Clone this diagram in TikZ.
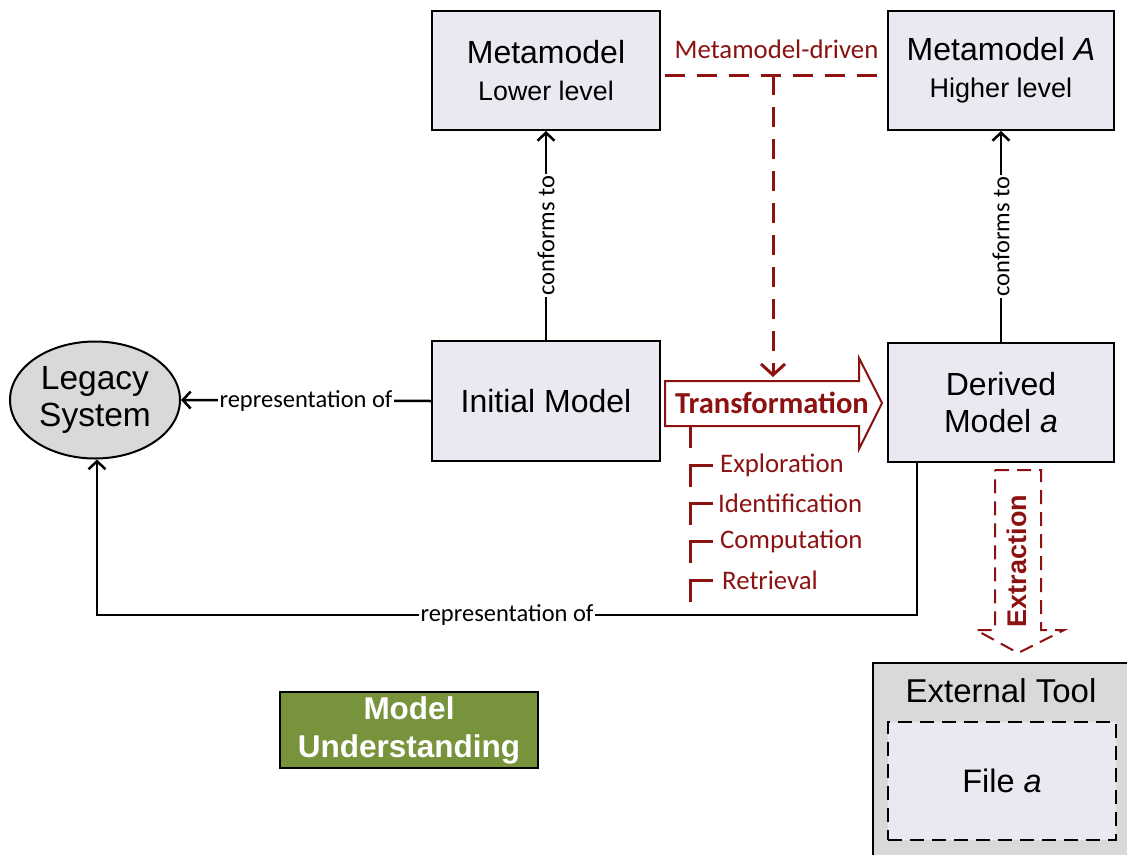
\documentclass[tikz,border=0pt]{standalone}
\usepackage{fontspec}
\setmainfont{Liberation Sans}
\newfontfamily\calib{Carlito}
\usetikzlibrary{arrows.meta,shapes.geometric}
\definecolor{dred}{RGB}{140,18,18}
\definecolor{lav}{RGB}{235,232,241}
\definecolor{lgray}{RGB}{217,217,217}
\definecolor{mugreen}{RGB}{119,147,60}
\begin{document}
\begin{tikzpicture}[x=1pt,y=-1pt,
  box/.style={draw=black, line width=2pt, fill=lav, minimum width=228pt, minimum height=119pt, inner sep=0pt, align=center, font=\fontsize{32}{37}\selectfont},
  conn/.style={line width=2.5pt, -{Straight Barb[length=8pt,width=17pt]}},
  lbl/.style={fill=white, inner sep=1.5pt, font=\calib\fontsize{24.5}{28}\selectfont},
  redtxt/.style={text=dred, inner sep=0pt, font=\calib\fontsize{26.8}{30}\selectfont},
  reddash/.style={draw=dred, line width=3pt, dash pattern=on 20pt off 12pt},
  tick/.style={draw=dred, line width=3pt}
]
\useasboundingbox (0,0) rectangle (1127,854);

% boxes
\node[box] (meta) at (546,70.5) {Metamodel\\{\fontsize{26.8}{36}\selectfont Lower level}};
\node[box, minimum width=226pt] (metaA) at (1001,70.5) {Metamodel \textit{A}\\{\fontsize{27}{36}\selectfont Higher level}};
\node[box, minimum height=120pt] (init) at (546,401) {Initial Model};
\node[box, minimum width=226pt] (derived) at (1001,402.5) {Derived\\Model \textit{a}};
\node[ellipse, draw=black, line width=2pt, fill=lgray, minimum width=170pt, minimum height=117pt, inner sep=0pt, align=center, font=\fontsize{33.5}{37}\selectfont] (legacy) at (95,400) {Legacy\\System};

% model understanding
\node[draw=black, line width=1.5pt, fill=mugreen, text=white, minimum width=258pt, minimum height=76pt, inner sep=0pt, align=center, font=\bfseries\fontsize{31.5}{38}\selectfont] (mu) at (409,730) {Model\\Understanding};

% external tool
\begin{scope}
\clip (0,0) rectangle (1127,854);
\node[draw=black, line width=2pt, fill=lgray, anchor=north west, minimum width=280pt, minimum height=220pt] (ext) at (872,662) {};
\end{scope}
\node[inner sep=0pt, font=\fontsize{33}{36}\selectfont] (extlbl) at (1001,691) {External Tool};
\node[draw=black, line width=2pt, dash pattern=on 14pt off 8pt, fill=lav, minimum width=228pt, minimum height=118pt, font=\fontsize{32.5}{36}\selectfont] (file) at (1002,781) {File \textit{a}};

% connectors
\draw[conn] (init.west) -- (legacy.east) node[midway, lbl] {representation of};
\draw[conn] (init.north) -- (meta.south) node[midway, lbl, rotate=90] {conforms to};
\draw[conn] (derived.north) -- (metaA.south) node[midway, lbl, rotate=90] {conforms to};
\coordinate (c1) at (917,615);
\coordinate (c2) at (97,615);
\draw[conn] (derived.south -| c1) -- (c1) -- (c2) node[midway, lbl] {representation of} -- (legacy.south -| c2);

% metamodel-driven
\coordinate (md1) at (665,75);
\coordinate (md2) at (888,75);
\coordinate (mdj) at (773,75);
\coordinate (mdt) at (773,377);
\draw[reddash] (md1) -- (md2) node[midway, above=15pt, redtxt] {Metamodel-driven};
\draw[reddash, -{Straight Barb[length=11pt,width=24pt]}] (mdj) -- (mdt);

% transformation arrow
\draw[dred, line width=2pt, fill=white, line join=miter] (665,381) -- (859,381) -- (859,358) -- (882,403) -- (859,449) -- (859,426) -- (665,426) -- cycle;
\node[text=dred, inner sep=0pt, font=\calib\bfseries\fontsize{30.5}{34}\selectfont] (trans) at (772,403) {Transformation};

% steps
\draw[tick] (690,426) -- (690,448);
\foreach \yy in {465,503,541,580}{
  \draw[tick] (713,\yy) -- (690,\yy) -- (690,\yy+22);
}
\node[redtxt, anchor=west] (s1) at (720,465) {Exploration};
\node[redtxt, anchor=west] (s2) at (718,503) {Identification};
\node[redtxt, anchor=west] (s3) at (720,541) {Computation};
\node[redtxt, anchor=west] (s4) at (722,580) {Retrieval};

% extraction arrow
\draw[dred, line width=2pt, dash pattern=on 14pt off 8pt, fill=white] (995,470) -- (1041,470) -- (1041,630) -- (1064,630) -- (1018,653) -- (976,630) -- (995,630) -- cycle;
\node[rotate=90, text=dred, inner sep=0pt, font=\bfseries\fontsize{27}{30}\selectfont] (extr) at (1017,561) {Extraction};
\end{tikzpicture}
\end{document}
